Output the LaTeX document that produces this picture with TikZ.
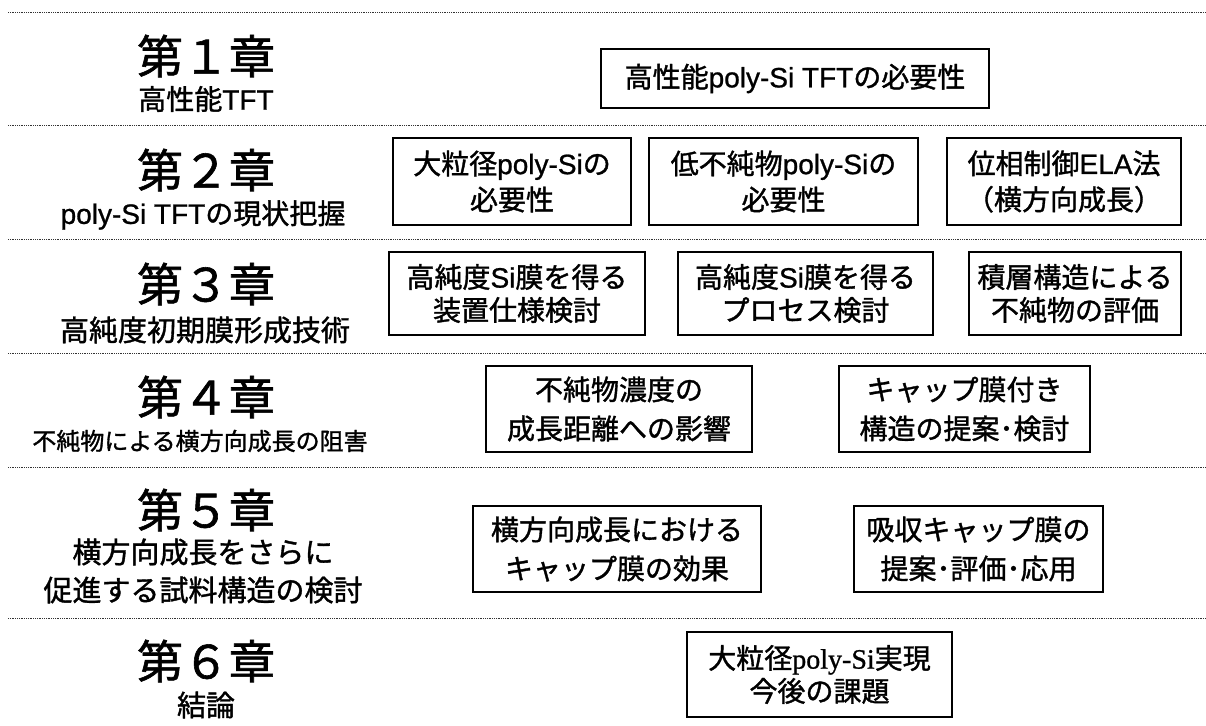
\documentclass[tikz,border=0pt]{standalone}
\usepackage{fontspec}
\setmainfont{Noto Sans CJK JP}[FakeBold=1.3]
\newfontfamily\lat{Liberation Sans}[FakeBold=0.9]
\newfontfamily\serifpart{Liberation Serif}[FakeBold=0.9]
\begin{document}
\begin{tikzpicture}[x=1pt,y=-1pt,
  sep/.style={line width=0.9pt, dash pattern=on 0.9pt off 0.9pt, black!80},
  chap/.style={inner sep=0pt, font=\fontsize{46}{50}\selectfont},
  sub/.style={inner sep=0pt, align=center, font=\fontsize{29}{38}\selectfont},
  topic/.style={draw, line width=1.6pt, inner sep=0pt, align=center, font=\fontsize{28}{36}\selectfont}]
\useasboundingbox (0,0) rectangle (1206,725);
% separators
\coordinate (l1a) at (8,12);  \coordinate (l1b) at (1206,12);
\coordinate (l2a) at (8,125); \coordinate (l2b) at (1206,125);
\coordinate (l3a) at (8,239); \coordinate (l3b) at (1206,239);
\coordinate (l4a) at (8,353); \coordinate (l4b) at (1206,353);
\coordinate (l5a) at (8,467); \coordinate (l5b) at (1206,467);
\coordinate (l6a) at (8,618); \coordinate (l6b) at (1206,618);
\foreach \i in {1,...,6} {\draw[sep] (l\i a) -- (l\i b);}
% chapter 1
\node[chap] (c1) at (206,56) {第１章};
\node[sub, font=\fontsize{28}{38}\selectfont] (s1) at (206,99) {高性能{\lat TFT}};
\node[topic, minimum width=388pt, minimum height=59pt] (b11) at (795,78.5) {高性能{\lat poly-Si TFT}の必要性};
% chapter 2
\node[chap] (c2) at (206,170) {第２章};
\node[sub, font=\fontsize{28}{38}\selectfont] (s2) at (203,215) {{\lat poly-Si TFT}の現状把握};
\node[topic, minimum width=238pt, minimum height=87pt] (b21) at (512,181.5) {大粒径{\lat poly-Si}の\\必要性};
\node[topic, minimum width=269pt, minimum height=87pt] (b22) at (783.5,181.5) {低不純物{\lat poly-Si}の\\必要性};
\node[topic, minimum width=234pt, minimum height=87pt] (b23) at (1064,181.5) {位相制御{\lat ELA}法\\（横方向成長）};
% chapter 3
\node[chap] (c3) at (206,284) {第３章};
\node[sub] (s3) at (205,330) {高純度初期膜形成技術};
\node[topic, minimum width=256pt, minimum height=83pt, font=\fontsize{28}{33}\selectfont] (b31) at (517,293.5) {高純度{\lat Si}膜を得る\\装置仕様検討};
\node[topic, minimum width=255pt, minimum height=83pt, font=\fontsize{28}{33}\selectfont] (b32) at (805.5,293.5) {高純度{\lat Si}膜を得る\\プロセス検討};
\node[topic, minimum width=212pt, minimum height=83pt, font=\fontsize{28}{33}\selectfont] (b33) at (1075,293.5) {積層構造による\\不純物の評価};
% chapter 4
\node[chap] (c4) at (206,397) {第４章};
\node[sub, font=\fontsize{24}{30}\selectfont] (s4) at (200,441) {不純物による横方向成長の阻害};
\node[topic, minimum width=266pt, minimum height=86pt, font=\fontsize{28}{39}\selectfont] (b41) at (619,409) {不純物濃度の\\成長距離への影響};
\node[topic, minimum width=251pt, minimum height=86pt, font=\fontsize{28}{39}\selectfont] (b42) at (964.5,409) {キャップ膜付き\\構造の提案･検討};
% chapter 5
\node[chap] (c5) at (206,510) {第５章};
\node[sub] (s5) at (203,571) {横方向成長をさらに\\促進する試料構造の検討};
\node[topic, minimum width=288pt, minimum height=86pt, font=\fontsize{28}{39}\selectfont] (b51) at (617,549) {横方向成長における\\キャップ膜の効果};
\node[topic, minimum width=249pt, minimum height=86pt, font=\fontsize{28}{39}\selectfont] (b52) at (978.5,549) {吸収キャップ膜の\\提案･評価･応用};
% chapter 6
\node[chap] (c6) at (206,661) {第６章};
\node[sub] (s6) at (206,705) {結論};
\node[topic, minimum width=265pt, minimum height=85pt, font=\fontsize{28}{33}\selectfont] (b61) at (819.5,674.5) {大粒径{\serifpart poly-Si}実現\\今後の課題};
\end{tikzpicture}
\end{document}
